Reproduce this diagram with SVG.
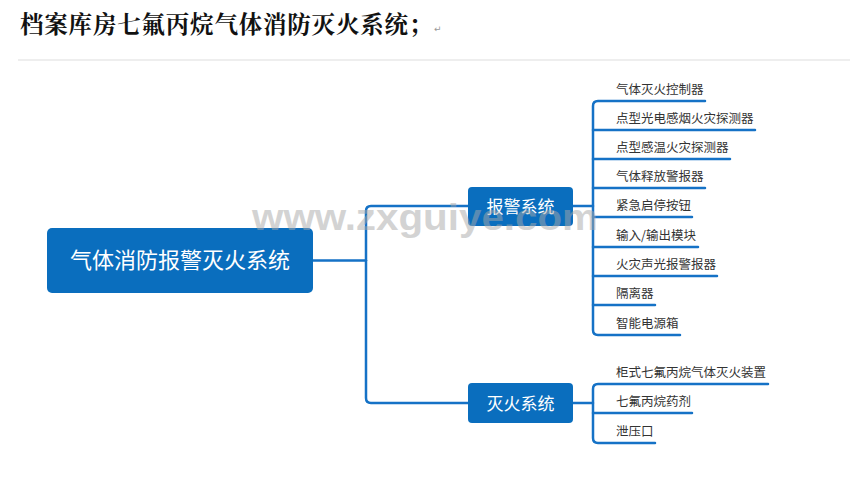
<svg xmlns="http://www.w3.org/2000/svg" width="850" height="501" viewBox="0 0 850 501">
<style>
.box{fill:#0a6ebe}
.wt{fill:#ffffff;font-family:"Noto Sans CJK SC","Noto Sans",sans-serif;text-anchor:middle}
.lt{fill:#333333;font-family:"Noto Sans CJK SC","Noto Sans",sans-serif;font-size:12.5px}
.ln{fill:none;stroke:#1572c6;stroke-width:2.5;stroke-linecap:round;stroke-linejoin:round}
</style>
<rect width="850" height="501" fill="#ffffff"/>
<text x="20" y="33" font-family="'Noto Serif CJK SC','Noto Sans CJK SC',serif" font-weight="bold" font-size="23.5" letter-spacing="0.8" fill="#111111">档案库房七氟丙烷气体消防灭火系统；</text>
<text x="434" y="32" font-family="'DejaVu Sans',sans-serif" font-size="9" fill="#999999">↵</text>
<line x1="18" y1="60" x2="850" y2="60" stroke="#e8e8e8" stroke-width="1.5"/>
<g id="connectors">
<path class="ln" d="M313,260.5 H366"/>
<path class="ln" d="M468,206 H371 Q366,206 366,211 V398 Q366,403 371,403 H468"/>
<path class="ln" d="M573,206 H593"/>
<path class="ln" d="M705,101 H598 Q593,101 593,106 V330 Q593,335 598,335 H680"/>
<path class="ln" d="M593,130 H755 M593,159 H730 M593,188 H705 M593,217 H692 M593,247 H698 M593,276 H717 M593,305 H655"/>
<path class="ln" d="M573,403 H593"/>
<path class="ln" d="M768,384 H598 Q593,384 593,389 V438 Q593,443 598,443 H655"/>
<path class="ln" d="M593,413 H692"/>
</g>
<g id="root">
<rect class="box" x="47" y="228" width="266" height="65" rx="5"/>
<text class="wt" x="180" y="267.5" font-size="22">气体消防报警灭火系统</text>
</g>
<g id="alarm">
<rect class="box" x="468" y="187" width="105" height="39" rx="4"/>
<text class="wt" x="520.5" y="213" font-size="17">报警系统</text>
</g>
<g id="extinguish">
<rect class="box" x="468" y="383" width="105" height="40" rx="4"/>
<text class="wt" x="520.5" y="409.5" font-size="17">灭火系统</text>
</g>
<g id="leaf-a1"><text class="lt" x="616" y="94">气体灭火控制器</text></g>
<g id="leaf-a2"><text class="lt" x="616" y="123">点型光电感烟火灾探测器</text></g>
<g id="leaf-a3"><text class="lt" x="616" y="152">点型感温火灾探测器</text></g>
<g id="leaf-a4"><text class="lt" x="616" y="181">气体释放警报器</text></g>
<g id="leaf-a5"><text class="lt" x="616" y="210">紧急启停按钮</text></g>
<g id="leaf-a6"><text class="lt" x="616" y="240">输入/输出模块</text></g>
<g id="leaf-a7"><text class="lt" x="616" y="269">火灾声光报警报器</text></g>
<g id="leaf-a8"><text class="lt" x="616" y="298">隔离器</text></g>
<g id="leaf-a9"><text class="lt" x="616" y="328">智能电源箱</text></g>
<g id="leaf-b1"><text class="lt" x="616" y="377">柜式七氟丙烷气体灭火装置</text></g>
<g id="leaf-b2"><text class="lt" x="616" y="406">七氟丙烷药剂</text></g>
<g id="leaf-b3"><text class="lt" x="616" y="436">泄压口</text></g>
<text x="252" y="230" font-family="'Liberation Sans',Arial,sans-serif" font-weight="bold" font-size="36" fill="#a8a8a8" fill-opacity="0.5" textLength="346" lengthAdjust="spacingAndGlyphs">www.zxguiye.com</text>
</svg>
